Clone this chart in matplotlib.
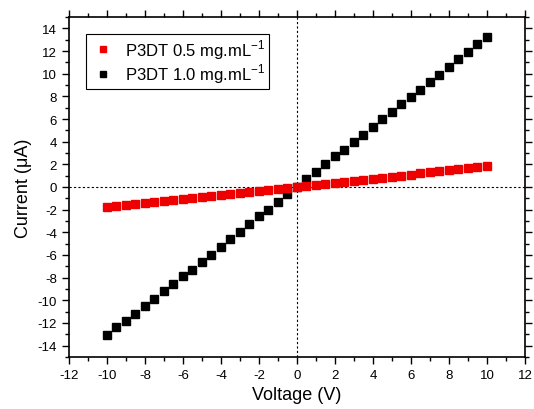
import numpy as np
import matplotlib
matplotlib.use('Agg')
import matplotlib.pyplot as plt
from matplotlib.ticker import MultipleLocator

plt.rcParams['font.family'] = ['Liberation Sans', 'DejaVu Sans']
plt.rcParams['mathtext.fontset'] = 'custom'
plt.rcParams['mathtext.rm'] = 'Liberation Sans'
plt.rcParams['axes.unicode_minus'] = False

voltage = np.arange(-10, 10.01, 0.5)
current_05 = [-1.80, -1.71, -1.62, -1.53, -1.44, -1.35, -1.26, -1.17, -1.08, -0.99,
              -0.90, -0.81, -0.72, -0.63, -0.54, -0.45, -0.36, -0.27, -0.18, -0.09,
              0.00, 0.09, 0.18, 0.28, 0.37, 0.46, 0.55, 0.64, 0.74, 0.83,
              0.92, 1.01, 1.10, 1.20, 1.29, 1.38, 1.47, 1.57, 1.66, 1.75, 1.85]
current_10 = [-13.1, -12.4, -11.8, -11.2, -10.5, -9.9, -9.2, -8.6, -7.9, -7.3,
              -6.6, -6.0, -5.3, -4.6, -4.0, -3.3, -2.6, -2.0, -1.3, -0.6,
              0.0, 0.7, 1.3, 2.0, 2.7, 3.3, 4.0, 4.6, 5.3, 6.0,
              6.6, 7.3, 7.9, 8.6, 9.3, 9.9, 10.6, 11.3, 11.9, 12.6, 13.2]

fig = plt.figure(figsize=(5.34, 4.10), dpi=100)
ax = fig.add_axes([0.129, 0.127, 0.854, 0.829])

ax.axhline(0, color='black', ls=(0, (2, 2)), lw=0.8, zorder=1)
ax.axvline(0, color='black', ls=(0, (2, 2)), lw=0.8, zorder=1)

ax.plot(voltage, current_05, 's', color='#ee0000', markersize=5.5, label='P3DT 0.5 mg.mL$^{-1}$', zorder=3)
ax.plot(voltage, current_10, 's', color='black', markersize=5.5, label='P3DT 1.0 mg.mL$^{-1}$', zorder=2)

ax.set_xlim(-12, 12)
ax.set_ylim(-15, 15)
ax.xaxis.set_major_locator(MultipleLocator(2))
ax.xaxis.set_minor_locator(MultipleLocator(1))
ax.yaxis.set_major_locator(MultipleLocator(2))
ax.yaxis.set_minor_locator(MultipleLocator(1))
ax.tick_params(which='both', direction='out', top=True, right=True, labelsize=9.5, width=1.0, colors='black')
ax.tick_params(which='major', length=5)
ax.tick_params(which='minor', length=3)
for s in ax.spines.values():
    s.set_linewidth(1.2)

ax.set_xlabel('Voltage (V)', fontsize=13)
ax.set_ylabel('Current (μA)', fontsize=13)

leg = ax.legend(loc='upper left', bbox_to_anchor=(0.02, 0.975), fontsize=12, fancybox=False,
                edgecolor='black', framealpha=1, handletextpad=0.5, borderpad=0.2,
                labelspacing=0.05, handlelength=1.6, markerscale=0.9)
leg.get_frame().set_linewidth(0.8)

fig.savefig('out.png', dpi=100)
